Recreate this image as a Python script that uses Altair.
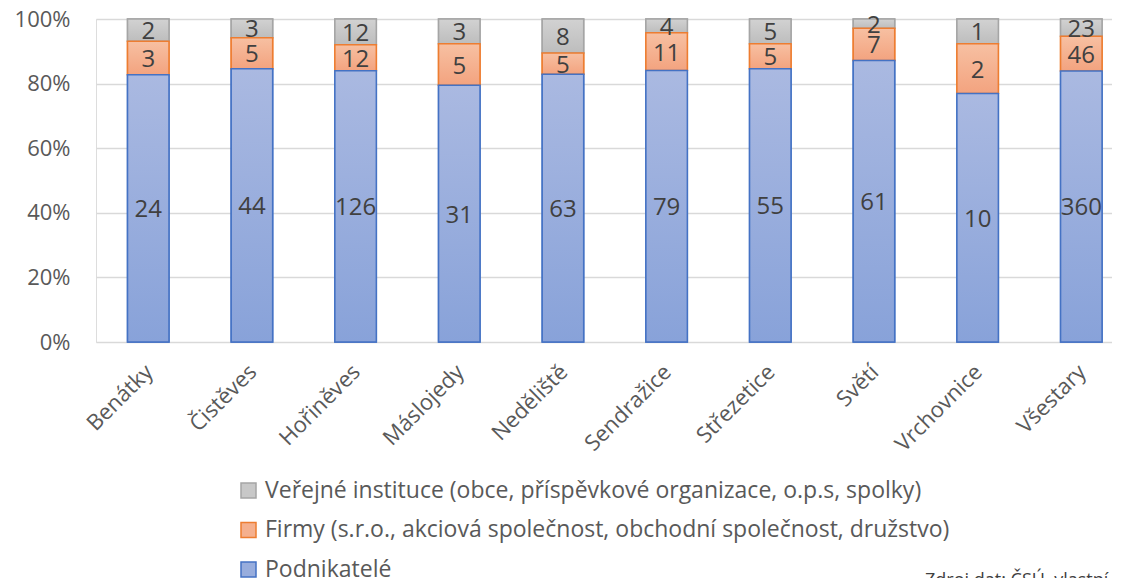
import altair as alt
import pandas as pd

categories = ["Benátky", "Čistěves", "Hořiněves", "Máslojedy", "Neděliště",
              "Sendražice", "Střezetice", "Světí", "Vrchovnice", "Všestary"]
podnikatele = [24, 44, 126, 31, 63, 79, 55, 61, 10, 360]
firmy = [3, 5, 12, 5, 5, 11, 5, 7, 2, 46]
verejne = [2, 3, 12, 3, 8, 4, 5, 2, 1, 23]

series = ["Veřejné instituce (obce, příspěvkové organizace, o.p.s, spolky)",
          "Firmy (s.r.o., akciová společnost, obchodní společnost, družstvo)",
          "Podnikatelé"]
source_text = ["Zdroj dat: ČSÚ, vlastní zpracování"]
stack_order = {series[2]: 0, series[1]: 1, series[0]: 2}

rows = []
for i, c in enumerate(categories):
    for s, vals in zip(series, [verejne, firmy, podnikatele]):
        rows.append({"kat": c, "serie": s, "hodnota": vals[i], "ord": stack_order[s]})
df = pd.DataFrame(rows)

FONT = "Open Sans"
fills = ["#c8c8c8", "#f5b08e", "#98addd"]
strokes = ["#a5a5a5", "#ed7d31", "#4472c4"]


def grad(top, bottom):
    return {"gradient": "linear", "x1": 0, "y1": 0, "x2": 0, "y2": 1,
            "stops": [{"offset": 0, "color": top}, {"offset": 1, "color": bottom}]}


grads = [grad("#d2d2d2", "#bdbdbd"), grad("#f7c0a2", "#f3a37f"), grad("#aab9e1", "#88a2d9")]

base = alt.Chart(df).transform_joinaggregate(
    total="sum(hodnota)", groupby=["kat"]
).transform_calculate(
    pct="datum.hodnota / datum.total"
).transform_window(
    cum="sum(pct)", groupby=["kat"], sort=[alt.SortField("ord")], frame=[None, 0]
).transform_calculate(
    y0="datum.cum - datum.pct", mid="datum.cum - datum.pct / 2"
)

xenc = alt.X("kat:N", sort=categories, title=None,
             scale=alt.Scale(paddingInner=0.6, paddingOuter=0.2, align=0.76),
             axis=alt.Axis(labelAngle=-45, labelFontSize=22, labelColor="#595959",
                           labelFont=FONT, ticks=False, domain=False, labelPadding=26,
                           labelAlign="right", labelBaseline="middle", labelOffset=1))
yenc = alt.Y("cum:Q", title=None,
             scale=alt.Scale(domain=[0, 1], nice=False),
             axis=alt.Axis(format=".0%", values=[0, 0.2, 0.4, 0.6, 0.8, 1.0],
                           labelFontSize=22, labelColor="#595959", labelFont=FONT,
                           ticks=False, tickSize=0, domain=False, labelPadding=26,
                           grid=True, gridColor="#d9d9d9", gridWidth=1.5))

legend_bars = base.mark_bar(strokeWidth=1.5).encode(
    x=xenc, y=yenc, y2="y0:Q",
    fill=alt.Fill("serie:N", scale=alt.Scale(domain=series, range=fills),
                  legend=alt.Legend(title=None, orient="none", legendX=141, legendY=460,
                                    direction="vertical", symbolType="square",
                                    symbolSize=225, symbolStrokeWidth=1.5,
                                    labelFontSize=23, labelColor="#595959", labelFont=FONT,
                                    rowPadding=15.5, labelLimit=1000, labelOffset=5)),
    stroke=alt.Stroke("serie:N", scale=alt.Scale(domain=series, range=strokes), legend=None),
)

layers = [legend_bars]
for s, g, st in zip(series, grads, strokes):
    layers.append(
        base.transform_filter(alt.datum.serie == s).mark_bar(fill=g, stroke=st, strokeWidth=1.5).encode(
            x=alt.X("kat:N", sort=categories), y="cum:Q", y2="y0:Q"
        )
    )

labels = base.mark_text(fontSize=24, color="#404040", font=FONT, baseline="middle", dy=2).encode(
    x=alt.X("kat:N", sort=categories), y=alt.Y("mid:Q"), text="hodnota:Q"
)
layers.append(labels)

source = alt.Chart(pd.DataFrame({"t": source_text})).mark_text(
    fontSize=18, font=FONT, color="#404040", align="left", baseline="alphabetic"
).encode(x=alt.value(829), y=alt.value(567), text="t:N")
layers.append(source)

chart = alt.layer(*layers).properties(
    width=1016, height=323,
    autosize=alt.AutoSizeParams(type="none"),
    padding={"left": 88, "top": 11, "right": 0, "bottom": 270},
).configure_view(stroke=None).configure(background="white")

chart.save("out.html", embed_options={"renderer": "svg", "actions": False})
